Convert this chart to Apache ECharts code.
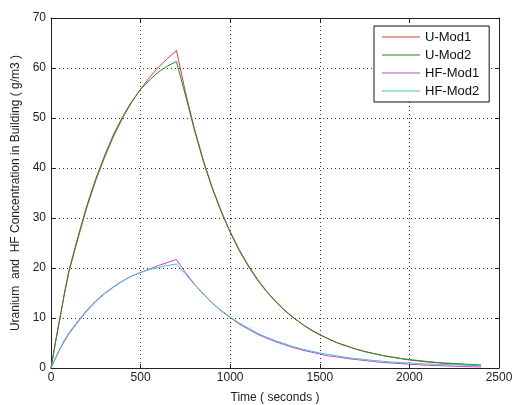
<!DOCTYPE html>
<html>
<head>
<meta charset="utf-8">
<script src="https://cdn.jsdelivr.net/npm/echarts@6/dist/echarts.min.js"></script>
<style>
  html, body { margin: 0; padding: 0; background: #fff; }
  #chart { width: 513px; height: 405px; }
</style>
</head>
<body>
<div id="chart"></div>
<script>
// Time samples (s)
var timeSec = [0, 25, 50, 75, 100, 150, 200, 250, 300, 350, 400, 450, 500, 550, 600, 650, 700,
  750, 800, 850, 900, 950, 1000, 1050, 1100, 1150, 1200, 1250, 1300, 1350, 1400, 1450, 1500,
  1550, 1600, 1650, 1700, 1750, 1800, 1850, 1900, 1950, 2000, 2050, 2100, 2150, 2200, 2250,
  2300, 2350, 2400];

// Uranium concentration, model 1 (g/m3)
var uMod1 = [0, 5.1, 9.9, 14.8, 19.2, 25.8, 32.1, 37.5, 42.2, 46.4, 50.0, 53.1, 55.8, 58.1, 60.2, 61.9, 63.5,
  55.2, 47.9, 41.6, 36.1, 31.4, 27.3, 23.7, 20.6, 17.9, 15.5, 13.5, 11.7, 10.2, 8.8, 7.7, 6.7,
  5.8, 5.0, 4.4, 3.8, 3.3, 2.9, 2.5, 2.2, 1.9, 1.6, 1.4, 1.2, 1.1, 0.9, 0.8,
  0.7, 0.6, 0.5];

// Uranium concentration, model 2 (g/m3)
var uMod2 = [0, 5.2, 10.1, 15.0, 19.5, 26.2, 32.5, 37.9, 42.6, 46.8, 50.3, 53.3, 55.7, 57.6, 59.2, 60.4, 61.3,
  54.6, 47.6, 41.3, 35.9, 31.2, 27.1, 23.5, 20.4, 17.7, 15.4, 13.4, 11.6, 10.1, 8.8, 7.6, 6.6,
  5.8, 5.0, 4.4, 3.8, 3.3, 2.9, 2.5, 2.2, 1.9, 1.7, 1.5, 1.3, 1.1, 1.0, 0.9,
  0.8, 0.7, 0.6];

// HF concentration, model 1 (g/m3)
var hfMod1 = [0, 1.9, 3.8, 5.4, 6.8, 9.2, 11.4, 13.3, 14.9, 16.2, 17.4, 18.4, 19.1, 19.8, 20.5, 21.1, 21.7,
  19.1, 16.8, 14.8, 13.0, 11.4, 10.1, 8.8, 7.8, 6.8, 6.0, 5.3, 4.7, 4.1, 3.6, 3.2, 2.8,
  2.4, 2.2, 1.9, 1.7, 1.5, 1.3, 1.1, 1.0, 0.9, 0.75, 0.65, 0.55, 0.5, 0.42, 0.36,
  0.3, 0.25, 0.2];

// HF concentration, model 2 (g/m3)
var hfMod2 = [0, 2.0, 3.9, 5.6, 7.0, 9.4, 11.6, 13.5, 15.0, 16.3, 17.4, 18.4, 19.1, 19.7, 20.1, 20.5, 20.8,
  18.8, 16.7, 14.8, 13.0, 11.5, 10.2, 9.0, 8.0, 7.0, 6.2, 5.5, 4.9, 4.3, 3.8, 3.4, 3.0,
  2.7, 2.4, 2.1, 1.9, 1.7, 1.5, 1.35, 1.2, 1.1, 1.0, 0.9, 0.8, 0.75, 0.7, 0.65,
  0.6, 0.55, 0.5];

var seriesNames = ['U-Mod1', 'U-Mod2', 'HF-Mod1', 'HF-Mod2'];
var seriesColors = ['#e03a3a', '#1f8a2a', '#d23cd2', '#3cc6c6'];
var seriesValues = [uMod1, uMod2, hfMod1, hfMod2];

var xTicks = { min: 0, max: 2500, interval: 500 };
var yTicks = { min: 0, max: 70, interval: 10 };

var FONT = 'Liberation Sans, Arial, sans-serif';

function pairs(values) {
  return timeSec.map(function (t, i) { return [t, values[i]]; });
}

function plain(v) { return String(v); }

var chart = echarts.init(document.getElementById('chart'), null, { renderer: 'canvas' });

var gridLine = { show: true, lineStyle: { color: '#333', type: [1, 3], width: 1 } };
var frameLine = { show: true, onZero: false, lineStyle: { color: '#222', width: 1 } };
var tickIn = { show: true, inside: true, length: 4, lineStyle: { color: '#222' } };

chart.setOption({
  animation: false,
  backgroundColor: '#fff',
  grid: { left: 51, right: 14, top: 18, bottom: 37, containLabel: false, outerBoundsMode: 'none' },
  legend: {
    orient: 'vertical',
    left: 374,
    top: 26,
    padding: [4, 10, 4, 8],
    itemGap: 4,
    itemWidth: 38,
    itemHeight: 1,
    icon: 'rect',
    borderColor: '#111',
    borderWidth: 1,
    backgroundColor: '#fff',
    textStyle: { fontFamily: FONT, fontSize: 13, color: '#111', lineHeight: 14 },
    data: seriesNames
  },
  xAxis: [
    {
      type: 'value', min: xTicks.min, max: xTicks.max, interval: xTicks.interval,
      position: 'bottom',
      name: 'Time ( seconds )', nameLocation: 'middle', nameGap: 24,
      nameTextStyle: { fontFamily: FONT, fontSize: 12, color: '#222' },
      axisLine: frameLine,
      axisTick: tickIn,
      axisLabel: { fontFamily: FONT, fontSize: 12, color: '#222', margin: 4, formatter: plain },
      splitLine: gridLine
    },
    {
      type: 'value', min: xTicks.min, max: xTicks.max, interval: xTicks.interval,
      position: 'top',
      axisLine: frameLine,
      axisTick: tickIn,
      axisLabel: { show: false },
      splitLine: { show: false }
    }
  ],
  yAxis: [
    {
      type: 'value', min: yTicks.min, max: yTicks.max, interval: yTicks.interval,
      position: 'left',
      name: 'Uranium  and  HF Concentration in Building ( g/m3 )',
      nameLocation: 'middle', nameGap: 24,
      nameTextStyle: { fontFamily: FONT, fontSize: 12, color: '#222' },
      axisLine: frameLine,
      axisTick: tickIn,
      axisLabel: { fontFamily: FONT, fontSize: 12, color: '#222', margin: 5, formatter: plain },
      splitLine: gridLine
    },
    {
      type: 'value', min: yTicks.min, max: yTicks.max, interval: yTicks.interval,
      position: 'right',
      axisLine: frameLine,
      axisTick: tickIn,
      axisLabel: { show: false },
      splitLine: { show: false }
    }
  ],
  series: seriesNames.map(function (name, k) {
    return {
      name: name,
      type: 'line',
      xAxisIndex: 0,
      yAxisIndex: 0,
      data: pairs(seriesValues[k]),
      showSymbol: false,
      symbol: 'none',
      smooth: false,
      color: seriesColors[k],
      lineStyle: { color: seriesColors[k], width: 1 },
      z: 2 + k
    };
  })
});
</script>
</body>
</html>
